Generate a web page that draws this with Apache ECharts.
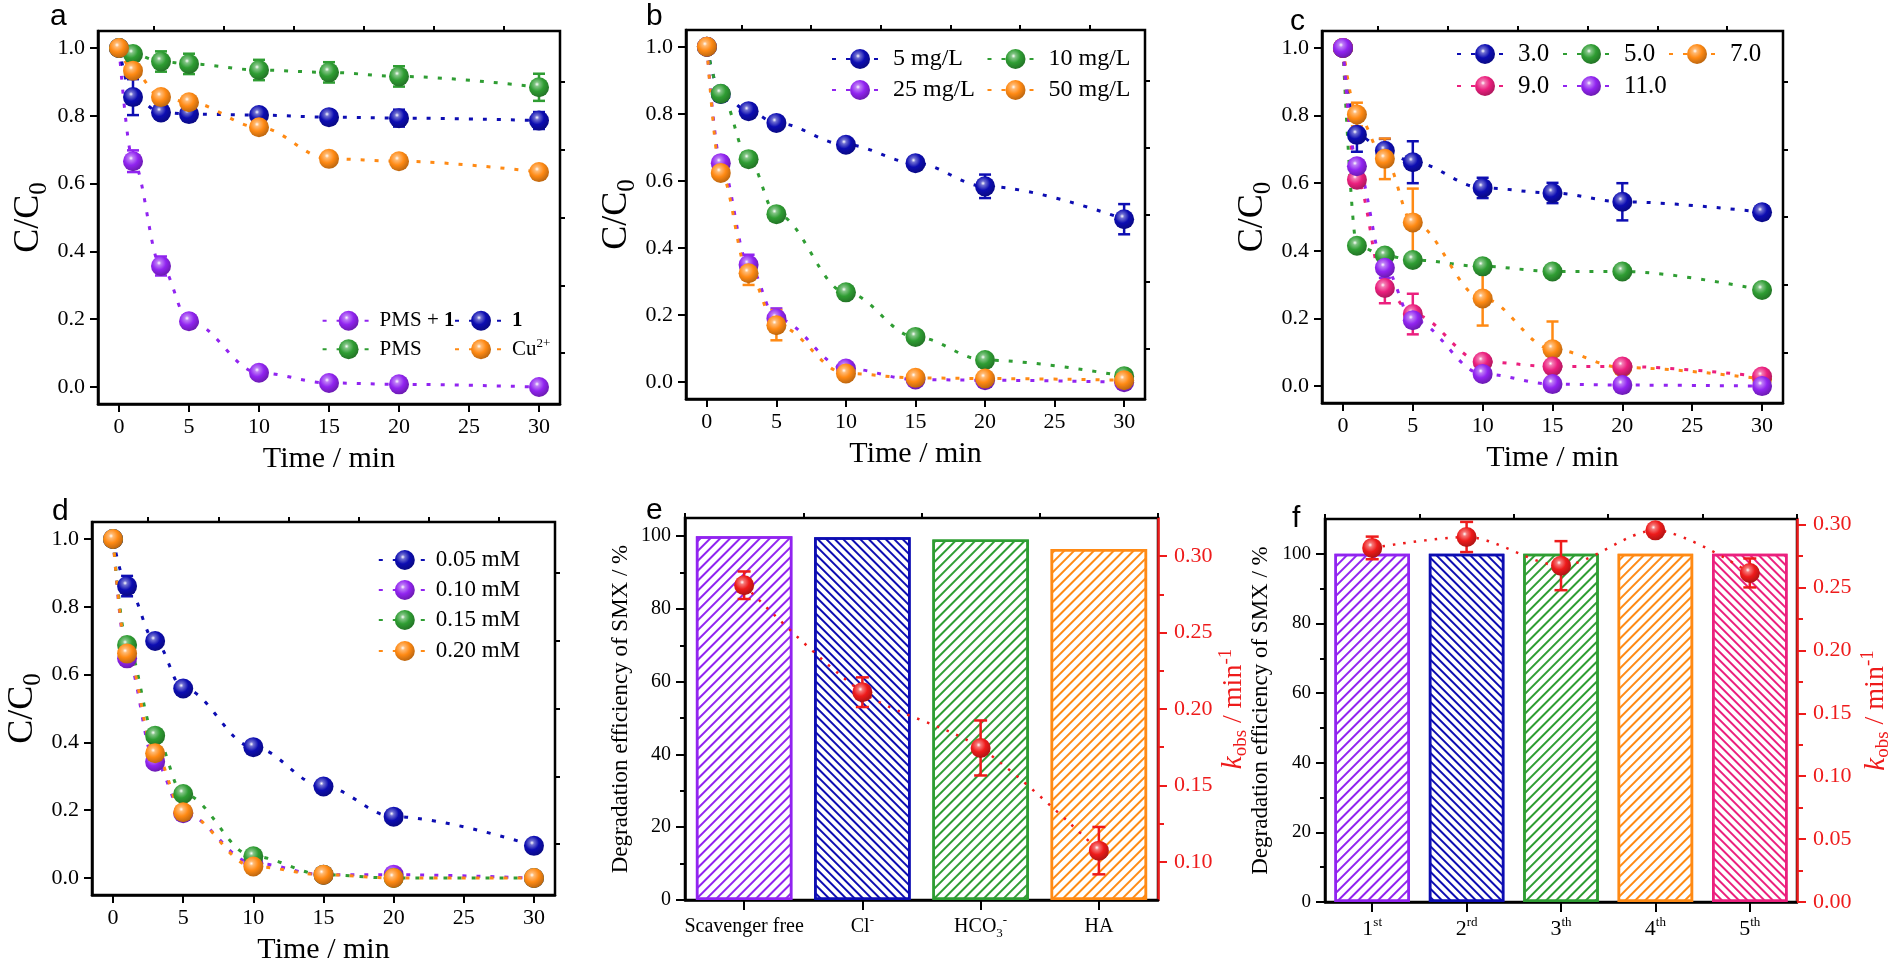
<!DOCTYPE html>
<html><head><meta charset="utf-8">
<script src="https://cdn.jsdelivr.net/npm/echarts@6/dist/echarts.min.js"></script>
<style>html,body{margin:0;padding:0;background:#fff}#c{width:1893px;height:973px}</style>
</head><body><div id="c"></div>
<script>
// ---------------- data ----------------
const times = [0, 1, 3, 5, 10, 15, 20, 30];
const xTicks = [0, 5, 10, 15, 20, 25, 30];
const xMinorTicks = [2.5, 7.5, 12.5, 17.5, 22.5, 27.5];
const yTicks = [0, 0.2, 0.4, 0.6, 0.8, 1.0];
const yMinorTicks = [0.1, 0.3, 0.5, 0.7, 0.9];

// panel a
const aPMS1 = [1.0, 0.666, 0.357, 0.194, 0.042, 0.012, 0.008, 0.0];
const aPMS1Err = [0, 0.032, 0.028, 0.02, 0.012, 0.008, 0.006, 0.008];
const aCat = [1.0, 0.855, 0.81, 0.805, 0.802, 0.796, 0.793, 0.786];
const aCatErr = [0, 0.053, 0.02, 0.015, 0.02, 0.02, 0.025, 0.025];
const aPMS = [1.0, 0.982, 0.96, 0.953, 0.935, 0.928, 0.916, 0.884];
const aPMSErr = [0, 0.02, 0.03, 0.03, 0.03, 0.03, 0.03, 0.04];
const aCu = [1.0, 0.933, 0.855, 0.84, 0.766, 0.673, 0.666, 0.634];
const aCuErr = [0, 0.01, 0.012, 0.012, 0.012, 0.01, 0.01, 0.01];

// panel b
const b5 = [1.0, 0.859, 0.808, 0.773, 0.708, 0.653, 0.584, 0.486];
const b5Err = [0, 0.01, 0.01, 0.015, 0.015, 0.015, 0.035, 0.045];
const b10 = [1.0, 0.86, 0.665, 0.501, 0.268, 0.135, 0.066, 0.018];
const b10Err = [0, 0.01, 0.01, 0.01, 0.01, 0.01, 0.01, 0.01];
const b25 = [1.0, 0.653, 0.35, 0.19, 0.041, 0.008, 0.006, 0.0];
const b25Err = [0, 0.02, 0.03, 0.03, 0.015, 0.008, 0.006, 0.005];
const b50 = [1.0, 0.624, 0.325, 0.17, 0.026, 0.013, 0.011, 0.006];
const b50Err = [0, 0.015, 0.035, 0.045, 0.01, 0.008, 0.008, 0.006];

// panel c
const c3 = [1.0, 0.743, 0.696, 0.662, 0.586, 0.571, 0.545, 0.514];
const c3Err = [0, 0.05, 0.035, 0.062, 0.03, 0.03, 0.055, 0.02];
const c5 = [1.0, 0.415, 0.386, 0.373, 0.354, 0.339, 0.339, 0.284];
const c5Err = [0, 0.01, 0.015, 0.01, 0.01, 0.01, 0.01, 0.01];
const c7 = [1.0, 0.803, 0.672, 0.484, 0.259, 0.109, 0.055, 0.021];
const c7Err = [0, 0.035, 0.06, 0.1, 0.08, 0.082, 0.01, 0.01];
const c9 = [1.0, 0.61, 0.29, 0.213, 0.072, 0.058, 0.058, 0.028];
const c9Err = [0, 0.015, 0.045, 0.06, 0.01, 0.01, 0.01, 0.01];
const c11 = [1.0, 0.65, 0.35, 0.195, 0.036, 0.006, 0.003, 0.0];
const c11Err = [0, 0.015, 0.03, 0.02, 0.01, 0.005, 0.005, 0.005];

// panel d
const d005 = [1.0, 0.861, 0.699, 0.559, 0.386, 0.27, 0.181, 0.095];
const d005Err = [0, 0.03, 0.01, 0.01, 0.01, 0.01, 0.01, 0.01];
const d010 = [1.0, 0.648, 0.343, 0.191, 0.044, 0.01, 0.01, 0.0];
const d010Err = [0, 0.015, 0.015, 0.015, 0.01, 0.005, 0.01, 0.005];
const d015 = [1.0, 0.687, 0.42, 0.248, 0.064, 0.01, 0.0, 0.0];
const d015Err = [0, 0.01, 0.01, 0.01, 0.01, 0.005, 0.005, 0.005];
const d020 = [1.0, 0.662, 0.368, 0.194, 0.034, 0.01, 0.0, 0.0];
const d020Err = [0, 0.01, 0.01, 0.01, 0.01, 0.005, 0.005, 0.005];

// panel e
const eCats = ['Scavenger free', 'Cl-', 'HCO3-', 'HA'];
const eEff = [100, 99.7, 99.1, 96.5];
const eK = [0.281, 0.211, 0.1745, 0.1073];
const eKErr = [0.009, 0.0097, 0.018, 0.0155];
const eLeftTicks = [0, 20, 40, 60, 80, 100];
const eLeftMinor = [10, 30, 50, 70, 90];
const eRightTicks = [0.10, 0.15, 0.20, 0.25, 0.30];
const eRightMinor = [0.125, 0.175, 0.225, 0.275];

// panel f
const fCats = ['1st', '2rd', '3th', '4th', '5th'];
const fEff = [100, 100, 100, 100, 100];
const fK = [0.2815, 0.2902, 0.2674, 0.2955, 0.2616];
const fKErr = [0.009, 0.012, 0.0195, 0.003, 0.0115];
const fLeftTicks = [0, 20, 40, 60, 80, 100];
const fLeftMinor = [10, 30, 50, 70, 90];
const fRightTicks = [0, 0.05, 0.10, 0.15, 0.20, 0.25, 0.30];
const fRightMinor = [0.025, 0.075, 0.125, 0.175, 0.225, 0.275];

// ---------------- styles ----------------
const F = 'Liberation Serif';
const COL = {purple:'#9124f0', blue:'#0d0db2', green:'#2f9d33', orange:'#ff8a14', pink:'#eb207e', red:'#ee1b1b'};
function mix(h1, h2, t) {
  const a = parseInt(h1.slice(1), 16), b = parseInt(h2.slice(1), 16);
  const r = Math.round(((a >> 16) & 255) * (1 - t) + ((b >> 16) & 255) * t);
  const g = Math.round(((a >> 8) & 255) * (1 - t) + ((b >> 8) & 255) * t);
  const bl = Math.round((a & 255) * (1 - t) + (b & 255) * t);
  return 'rgb(' + r + ',' + g + ',' + bl + ')';
}
function ball(c) {
  return {type:'radial', x:0.4, y:0.35, r:0.7, colorStops:[
    {offset:0, color:'#ffffff'}, {offset:0.16, color:mix(c, '#ffffff', 0.4)},
    {offset:0.5, color:c}, {offset:1, color:mix(c, '#000000', 0.3)}]};
}
function errBar(color, capHalf, lw) {
  return function (params, api) {
    const x = api.value(0), y = api.value(1), e = api.value(2);
    const p1 = api.coord([x, y + e]), p2 = api.coord([x, y - e]);
    const st = {stroke:color, lineWidth:lw};
    return {type:'group', children:[
      {type:'line', shape:{x1:p1[0], y1:p1[1], x2:p2[0], y2:p2[1]}, style:st},
      {type:'line', shape:{x1:p1[0] - capHalf, y1:p1[1], x2:p1[0] + capHalf, y2:p1[1]}, style:st},
      {type:'line', shape:{x1:p2[0] - capHalf, y1:p2[1], x2:p2[0] + capHalf, y2:p2[1]}, style:st}
    ]};
  };
}

const grid = [], xAxis = [], yAxis = [], series = [], legend = [];
function legFmt(n) {
  if (n === 'PMS + 1') return 'PMS + {b|1}';
  if (n === '1') return '{b|1}';
  if (n === 'Cu2+') return 'Cu{sup|2+}';
  return n;
}

function addLinePanel(box, defs, leg) {
  const g = grid.length;
  grid.push({left:box[0], top:box[1], width:box[2], height:box[3], show:true, borderColor:'#000', borderWidth:2.5, backgroundColor:'transparent', outerBoundsMode:'none'});
  const xi = xAxis.length, yi = yAxis.length;
  xAxis.push({type:'value', gridIndex:g, min:-1.5, max:31.5,
    axisLine:{show:true, onZero:false, lineStyle:{color:'#000', width:2.5}},
    axisTick:{show:true, length:8, lineStyle:{color:'#000', width:2}, customValues:xTicks},
    axisLabel:{show:true, customValues:xTicks, color:'#000', fontSize:22, fontFamily:F, margin:12},
    splitLine:{show:false}, name:'Time / min', nameLocation:'middle', nameGap:40,
    nameTextStyle:{color:'#000', fontSize:30, fontFamily:F}});
  xAxis.push({type:'value', gridIndex:g, min:-1.5, max:31.5,
    axisLine:{show:false, onZero:false},
    axisTick:{show:true, length:5, lineStyle:{color:'#000', width:2}, customValues:xMinorTicks},
    axisLabel:{show:false}, splitLine:{show:false}});
  yAxis.push({type:'value', gridIndex:g, min:-0.05, max:1.05,
    axisLine:{show:true, onZero:false, lineStyle:{color:'#000', width:2.5}},
    axisTick:{show:true, length:8, lineStyle:{color:'#000', width:2}, customValues:yTicks},
    axisLabel:{show:true, customValues:yTicks, color:'#000', fontSize:22, fontFamily:F, margin:13, formatter:v => v.toFixed(1)},
    splitLine:{show:false}, name:'C/C{s|0}', nameLocation:'middle', nameGap:46, nameRotate:90,
    nameTextStyle:{color:'#000', fontSize:36, fontFamily:F, lineHeight:46,
      rich:{s:{fontSize:25, fontFamily:F, verticalAlign:'bottom', lineHeight:25}}}});
  yAxis.push({type:'value', gridIndex:g, min:-0.05, max:1.05,
    axisLine:{show:false, onZero:false},
    axisTick:{show:true, length:5, lineStyle:{color:'#000', width:2}, customValues:yMinorTicks},
    axisLabel:{show:false}, splitLine:{show:false}});
  defs.forEach(d => {
    series.push({type:'line', name:d.name, xAxisIndex:xi, yAxisIndex:yi,
      data:times.map((t, i) => [t, d.v[i]]), smooth:0.35, smoothMonotone:'x',
      symbol:'circle', symbolSize:20, itemStyle:{color:ball(d.c)},
      lineStyle:{color:d.c, width:3, type:[4, 10]}, emphasis:{disabled:true}, silent:true, z:2});
    series.push({type:'custom', xAxisIndex:xi, yAxisIndex:yi,
      data:times.map((t, i) => [t, d.v[i], d.e[i]]).filter(p => p[2] > 0),
      renderItem:errBar(d.c, 6, 2.5), silent:true, z:2});
  });
  leg.items.forEach(it => {
    legend.push({data:[it[0]], left:it[1] - leg.iw / 2, top:it[2] - 12.5, itemWidth:leg.iw, itemHeight:25,
      padding:0, selectedMode:false, formatter:legFmt,
      textStyle:{color:'#000', fontSize:leg.fs, fontFamily:F, lineHeight:25,
        rich:{b:{fontWeight:'bold', fontSize:leg.fs, fontFamily:F},
              sup:{fontSize:Math.round(leg.fs * 0.62), verticalAlign:'top', lineHeight:12, fontFamily:F}}}});
  });
}

function catLabelFmt(n) {
  const m = {'Cl-':'Cl{sup|-}', 'HCO3-':'HCO{sub|3}{sup|-}', '1st':'1{sup|st}', '2rd':'2{sup|rd}', '3th':'3{sup|th}', '4th':'4{sup|th}', '5th':'5{sup|th}'};
  return m[n] || n;
}

function addBarPanel(box, p) {
  const g = grid.length;
  grid.push({left:box[0], top:box[1], width:box[2], height:box[3], show:true, borderColor:'#000', borderWidth:2.5, backgroundColor:'transparent', outerBoundsMode:'none'});
  const xi = xAxis.length, yi = yAxis.length;
  xAxis.push({type:'category', gridIndex:g, data:p.cats, boundaryGap:true,
    axisLine:{show:true, onZero:false, lineStyle:{color:'#000', width:2.5}},
    axisTick:{show:true, alignWithLabel:true, length:10, lineStyle:{color:'#000', width:2}},
    axisLabel:{show:true, interval:0, color:'#000', fontSize:p.catFs, fontFamily:F, margin:14, formatter:catLabelFmt,
      lineHeight:26, rich:{sup:{fontSize:13, verticalAlign:'top', lineHeight:13, fontFamily:F},
                           sub:{fontSize:13, verticalAlign:'bottom', lineHeight:13, fontFamily:F}}},
    splitLine:{show:false}});
  xAxis.push({type:'category', gridIndex:g, data:p.cats, boundaryGap:true,
    axisLine:{show:false, onZero:false},
    axisTick:{show:true, alignWithLabel:false, length:5, lineStyle:{color:'#000', width:2}},
    axisLabel:{show:false}, splitLine:{show:false}});
  // left main, left minor, right main, right minor
  yAxis.push({type:'value', gridIndex:g, min:0, max:p.leftMax, position:'left',
    axisLine:{show:true, onZero:false, lineStyle:{color:'#000', width:2.5}},
    axisTick:{show:true, length:9, lineStyle:{color:'#000', width:2}, customValues:p.lt},
    axisLabel:{show:true, customValues:p.lt, color:'#000', fontSize:p.leftFs, fontFamily:F, margin:14},
    splitLine:{show:false}, name:'Degradation efficiency of SMX / %', nameLocation:'middle', nameGap:p.lGap, nameRotate:90,
    nameTextStyle:{color:'#000', fontSize:23, fontFamily:F}});
  yAxis.push({type:'value', gridIndex:g, min:0, max:p.leftMax, position:'left',
    axisLine:{show:false, onZero:false},
    axisTick:{show:true, length:5, lineStyle:{color:'#000', width:2}, customValues:p.lm},
    axisLabel:{show:false}, splitLine:{show:false}});
  yAxis.push({type:'value', gridIndex:g, min:p.rMin, max:p.rMax, position:'right',
    axisLine:{show:true, onZero:false, lineStyle:{color:COL.red, width:2.5}},
    axisTick:{show:true, length:9, lineStyle:{color:COL.red, width:2}, customValues:p.rt},
    axisLabel:{show:true, customValues:p.rt, color:COL.red, fontSize:22, fontFamily:F, margin:16, formatter:v => v.toFixed(2)},
    splitLine:{show:false}, name:'{k|k}{s|obs}{n| / min}{p|-1}', nameLocation:'middle', nameGap:p.rGap, nameRotate:90,
    nameTextStyle:{color:COL.red, fontSize:28, fontFamily:F, lineHeight:34,
      rich:{k:{fontStyle:'italic', fontSize:29, fontFamily:F, color:COL.red},
            s:{fontSize:19, verticalAlign:'bottom', lineHeight:19, fontFamily:F, color:COL.red},
            n:{fontSize:28, fontFamily:F, color:COL.red},
            p:{fontSize:19, verticalAlign:'top', lineHeight:19, fontFamily:F, color:COL.red}}}});
  yAxis.push({type:'value', gridIndex:g, min:p.rMin, max:p.rMax, position:'right',
    axisLine:{show:false, onZero:false},
    axisTick:{show:true, length:6, lineStyle:{color:COL.red, width:2}, customValues:p.rm},
    axisLabel:{show:false}, splitLine:{show:false}});
  series.push({type:'bar', xAxisIndex:xi, yAxisIndex:yi, barWidth:p.barW, silent:true, z:1,
    data:p.eff.map((v, i) => ({value:v, itemStyle:{color:'#ffffff', borderColor:p.cols[i], borderWidth:2.5,
      decal:{symbol:'rect', symbolSize:1, dashArrayX:[1, 0], dashArrayY:p.dirs[i] > 0 ? [2, 5] : [2, 4],
             rotation:-p.dirs[i] * Math.PI / 4, color:p.cols[i]}}})),
    emphasis:{disabled:true}});
  series.push({type:'line', name:'kobs' + g, xAxisIndex:xi, yAxisIndex:yi + 2,
    data:p.k, smooth:0.3, symbol:'circle', symbolSize:20, itemStyle:{color:ball(COL.red)},
    lineStyle:{color:COL.red, width:2.5, type:[2.5, 8]}, emphasis:{disabled:true}, silent:true, z:3});
  series.push({type:'custom', xAxisIndex:xi, yAxisIndex:yi + 2,
    data:p.k.map((v, i) => [i, v, p.ke[i]]), renderItem:errBar(COL.red, 6.5, 2.5), silent:true, z:3});
}

addLinePanel([98, 31, 462, 373], [
  {name:'PMS + 1', v:aPMS1, e:aPMS1Err, c:COL.purple},
  {name:'1', v:aCat, e:aCatErr, c:COL.blue},
  {name:'PMS', v:aPMS, e:aPMSErr, c:COL.green},
  {name:'Cu2+', v:aCu, e:aCuErr, c:COL.orange}
], {iw:52, fs:21, items:[['PMS + 1', 347.6, 320.7], ['1', 480, 320.7], ['PMS', 347.6, 349.3], ['Cu2+', 480, 349.3]]});

addLinePanel([686, 30, 459, 369], [
  {name:'5 mg/L', v:b5, e:b5Err, c:COL.blue},
  {name:'10 mg/L', v:b10, e:b10Err, c:COL.green},
  {name:'25 mg/L', v:b25, e:b25Err, c:COL.purple},
  {name:'50 mg/L', v:b50, e:b50Err, c:COL.orange}
], {iw:56, fs:24, items:[['5 mg/L', 859, 59], ['10 mg/L', 1014.5, 59], ['25 mg/L', 859, 90], ['50 mg/L', 1014.5, 90]]});

addLinePanel([1322, 31, 461, 372], [
  {name:'3.0', v:c3, e:c3Err, c:COL.blue},
  {name:'5.0', v:c5, e:c5Err, c:COL.green},
  {name:'7.0', v:c7, e:c7Err, c:COL.orange},
  {name:'9.0', v:c9, e:c9Err, c:COL.pink},
  {name:'11.0', v:c11, e:c11Err, c:COL.purple}
], {iw:56, fs:25, items:[['3.0', 1484, 54], ['5.0', 1590, 54], ['7.0', 1696, 54], ['9.0', 1484, 86], ['11.0', 1590, 86]]});

addLinePanel([92, 522, 463, 373], [
  {name:'0.05 mM', v:d005, e:d005Err, c:COL.blue},
  {name:'0.10 mM', v:d010, e:d010Err, c:COL.purple},
  {name:'0.15 mM', v:d015, e:d015Err, c:COL.green},
  {name:'0.20 mM', v:d020, e:d020Err, c:COL.orange}
], {iw:52, fs:23, items:[['0.05 mM', 403.8, 560], ['0.10 mM', 403.8, 590], ['0.15 mM', 403.8, 620], ['0.20 mM', 403.8, 651]]});

addBarPanel([685, 518, 473, 382], {cats:eCats, eff:eEff, k:eK, ke:eKErr, cols:[COL.purple, COL.blue, COL.green, COL.orange],
  dirs:[1, -1, 1, 1],
  leftMax:105, lt:eLeftTicks, lm:eLeftMinor, rMin:0.075, rMax:0.325, rt:eRightTicks, rm:eRightMinor,
  barW:'81.6%', catFs:20, leftFs:20, lGap:53, rGap:58});

addBarPanel([1325, 519, 472, 383], {cats:fCats, eff:fEff, k:fK, ke:fKErr, cols:[COL.purple, COL.blue, COL.green, COL.orange, COL.pink],
  dirs:[1, -1, 1, 1, -1],
  leftMax:110, lt:fLeftTicks, lm:fLeftMinor, rMin:0, rMax:0.3045, rt:fRightTicks, rm:fRightMinor,
  barW:'80%', catFs:22, leftFs:19, lGap:53, rGap:62});

const letters = [['a', 50, 25], ['b', 646, 25], ['c', 1290, 30], ['d', 52, 520], ['e', 646, 519], ['f', 1292, 527]];
const graphic = letters.map(l => ({type:'text', x:l[1], y:l[2] + 7, z:100,
  style:{text:l[0], fontSize:30, fontFamily:'Liberation Sans', fill:'#000', verticalAlign:'bottom', align:'left'}}));

const chart = echarts.init(document.getElementById('c'));
chart.setOption({animation:false, backgroundColor:'#fff', textStyle:{fontFamily:F},
  grid, xAxis, yAxis, series, legend, graphic, tooltip:{show:false}});
</script></body></html>
